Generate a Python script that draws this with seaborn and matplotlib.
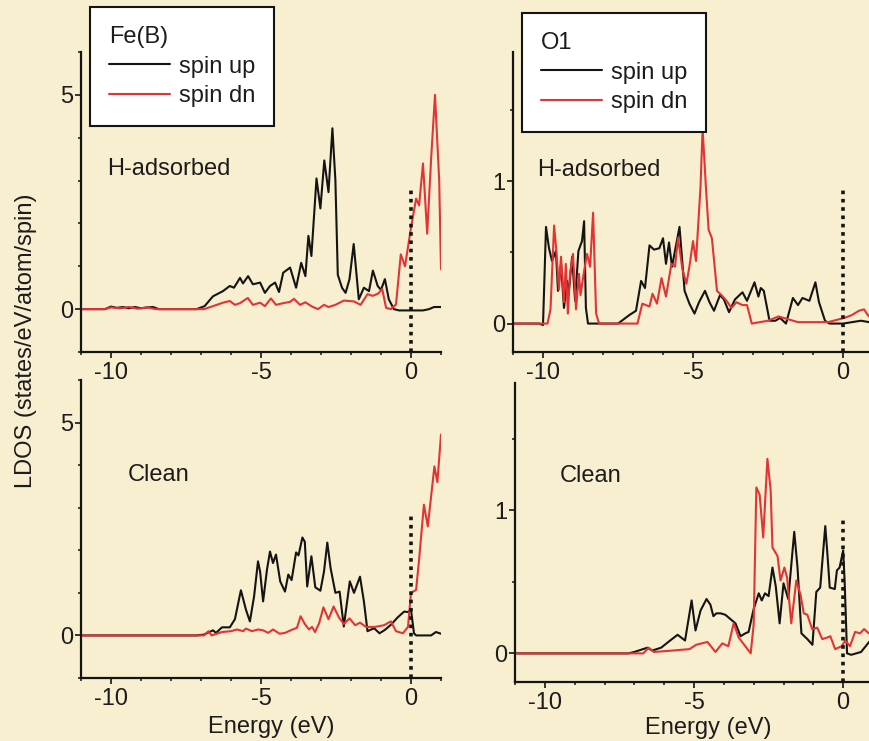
import matplotlib
matplotlib.use("Agg")
import numpy as np
import pandas as pd
import seaborn as sns
import matplotlib.pyplot as plt
from matplotlib.ticker import MultipleLocator, FixedLocator
from matplotlib.lines import Line2D

# ---------------- data ----------------
# Fe(B), H-adsorbed
fe_h_up_E = [-11, -10.2, -10.0, -9.8, -9.6, -9.4, -9.2, -9.0, -8.8, -8.6, -8.4, -8.2, -7.6, -7.15, -6.88,
             -6.6, -6.27, -6.04, -5.9, -5.7, -5.6, -5.43, -5.27, -5.03, -4.87, -4.7, -4.53, -4.4, -4.26,
             -4.03, -3.83, -3.66, -3.52, -3.42, -3.32, -3.15, -3.02, -2.89, -2.75, -2.62, -2.52, -2.44,
             -2.3, -2.18, -2.05, -1.91, -1.74, -1.57, -1.4, -1.27, -1.11, -1.0, -0.87, -0.74, -0.57, -0.4,
             0.0, 0.4, 0.6, 0.77, 1.0]
fe_h_up_y = [0, 0, 0.06, 0.03, 0.05, 0.02, 0.05, 0.02, 0.04, 0.05, 0.0, 0.0, 0, 0, 0.07,
             0.3, 0.42, 0.54, 0.5, 0.73, 0.6, 0.77, 0.58, 0.62, 0.38, 0.54, 0.62, 0.4, 0.85,
             0.97, 0.5, 1.08, 0.77, 1.71, 1.24, 3.05, 2.35, 3.47, 2.73, 4.22, 3.0, 0.8,
             0.5, 0.38, 0.7, 1.52, 0.23, 0.5, 0.42, 0.9, 0.54, 0.45, 0.7, 0.23, 0.0, -0.03,
             -0.03, -0.03, 0.0, 0.05, 0.05]
fe_h_dn_E = [-11, -10.2, -10.0, -9.7, -9.4, -9.1, -8.8, -8.5, -8.2, -7.0, -6.9, -6.6, -6.27, -6.04,
             -5.87, -5.7, -5.44, -5.27, -5.03, -4.87, -4.67, -4.5, -4.26, -4.03, -3.9, -3.7, -3.52,
             -3.3, -3.1, -2.9, -2.75, -2.52, -2.24, -1.9, -1.68, -1.45, -1.28, -1.1, -0.96, -0.83,
             -0.67, -0.5, -0.34, -0.2, 0.0, 0.17, 0.27, 0.4, 0.54, 0.67, 0.8, 0.94, 1.0]
fe_h_dn_y = [0, 0, 0.04, 0.02, 0.05, 0.01, 0.04, 0.0, 0.0, 0, 0, 0.07, 0.15, 0.19,
             0.1, 0.14, 0.26, 0.1, 0.15, 0.07, 0.25, 0.1, 0.14, 0.17, 0.24, 0.1, 0.16,
             0.06, 0.0, 0.1, 0.05, 0.1, 0.2, 0.18, 0.1, 0.35, 0.31, 0.36, 0.47, 0.03,
             0.0, 0.11, 1.28, 1.0, 1.9, 2.58, 2.42, 3.4, 1.76, 3.5, 5.0, 3.0, 0.93]

# O1, H-adsorbed
o_h_up_E = [-11, -10.13, -10.0, -9.9, -9.8, -9.7, -9.57, -9.5, -9.4, -9.3, -9.2, -9.15, -9.03, -8.93,
            -8.82, -8.7, -8.63, -8.57, -8.5, -8.2, -7.5, -7.12, -6.9, -6.73, -6.6, -6.45, -6.3, -6.12,
            -6.0, -5.9, -5.8, -5.7, -5.45, -5.28, -5.12, -4.95, -4.8, -4.6, -4.45, -4.3, -4.1, -3.97,
            -3.8, -3.6, -3.35, -3.2, -2.95, -2.82, -2.74, -2.64, -2.45, -2.25, -2.1, -1.9, -1.67, -1.5,
            -1.35, -1.12, -0.92, -0.8, -0.6, -0.45, 0.0, 0.6, 0.87, 1.0]
o_h_up_y = [0, 0, -0.01, 0.68, 0.53, 0.44, 0.51, 0.23, 0.42, 0.11, 0.3, 0.2, 0.47, 0.16,
            0.51, 0.58, 0.72, 0.11, 0.0, 0.0, 0.0, 0.06, 0.09, 0.3, 0.25, 0.55, 0.52, 0.53,
            0.6, 0.42, 0.57, 0.4, 0.68, 0.23, 0.14, 0.07, 0.15, 0.23, 0.15, 0.09, 0.2, 0.17,
            0.08, 0.17, 0.22, 0.16, 0.29, 0.19, 0.25, 0.23, 0.02, 0.02, 0.04, 0.0, 0.18, 0.13,
            0.18, 0.16, 0.29, 0.15, 0.02, 0.0, 0.0, 0.02, 0.01, 0.01]
o_h_dn_E = [-11, -9.85, -9.75, -9.63, -9.55, -9.47, -9.4, -9.3, -9.24, -9.17, -9.1, -9.0, -8.9, -8.8,
            -8.75, -8.63, -8.53, -8.43, -8.33, -8.23, -8.13, -7.0, -6.85, -6.69, -6.45, -6.35, -6.2,
            -6.05, -5.9, -5.72, -5.6, -5.5, -5.35, -5.22, -5.12, -5.0, -4.9, -4.75, -4.68, -4.57,
            -4.48, -4.37, -4.2, -4.05, -3.88, -3.72, -3.55, -3.35, -3.2, -3.04, -2.5, -2.15, -1.5,
            -0.5, 0.05, 0.3, 0.53, 0.7, 0.86, 1.0]
o_h_dn_y = [0, 0, 0.1, 0.69, 0.5, 0.24, 0.47, 0.15, 0.42, 0.07, 0.35, 0.49, 0.1, 0.35,
            0.2, 0.37, 0.49, 0.4, 0.78, 0.07, 0.0, 0.0, 0.0, 0.14, 0.12, 0.21, 0.14,
            0.32, 0.19, 0.42, 0.4, 0.6, 0.38, 0.28, 0.4, 0.58, 0.44, 0.96, 1.37, 0.96,
            0.66, 0.6, 0.23, 0.2, 0.16, 0.11, 0.15, 0.13, 0.13, 0.0, 0.02, 0.05, 0.01,
            0.01, 0.04, 0.06, 0.09, 0.1, 0.05, 0.05]

# Fe(B), clean
fe_c_up_E = [-11, -7.15, -6.9, -6.6, -6.5, -6.3, -6.04, -5.87, -5.67, -5.5, -5.37, -5.23, -5.1, -5.03,
             -4.93, -4.8, -4.7, -4.6, -4.5, -4.36, -4.2, -4.09, -3.98, -3.83, -3.75, -3.62, -3.54,
             -3.46, -3.32, -3.19, -3.02, -2.9, -2.79, -2.68, -2.52, -2.38, -2.24, -2.04, -1.9, -1.7,
             -1.57, -1.45, -1.23, -1.05, -0.87, -0.67, -0.45, -0.23, -0.1, 0.0, 0.1, 0.17, 0.67,
             0.83, 1.0]
fe_c_up_y = [0, 0, 0.02, 0.12, 0.06, 0.19, 0.19, 0.38, 1.06, 0.6, 0.33, 0.92, 1.74, 1.5,
             0.8, 1.55, 1.97, 1.7, 1.9, 1.27, 1.03, 1.43, 1.3, 1.95, 1.88, 2.3, 2.2,
             1.15, 1.86, 1.13, 1.05, 1.5, 2.18, 1.58, 1.0, 1.03, 0.21, 1.27, 1.0, 1.38,
             0.8, 0.1, 0.17, 0.05, 0.13, 0.25, 0.42, 0.56, 0.55, 0.6, 0.05, 0.0, 0.0,
             0.08, 0.04]
fe_c_dn_E = [-11, -6.9, -6.75, -6.65, -6.3, -6.0, -5.8, -5.6, -5.5, -5.3, -5.1, -4.93, -4.76, -4.6,
             -4.38, -4.2, -3.98, -3.8, -3.68, -3.54, -3.4, -3.3, -3.2, -3.06, -2.92, -2.75, -2.58,
             -2.4, -2.24, -2.05, -1.86, -1.7, -1.5, -1.2, -0.9, -0.67, -0.5, -0.27, -0.1, 0.0, 0.17,
             0.27, 0.43, 0.56, 0.78, 0.88, 1.0]
fe_c_dn_y = [0, 0, 0.1, 0.0, 0.08, 0.1, 0.14, 0.1, 0.16, 0.1, 0.14, 0.12, 0.06, 0.14,
             0.04, 0.06, 0.13, 0.18, 0.45, 0.27, 0.14, 0.2, 0.08, 0.29, 0.66, 0.38, 0.68,
             0.42, 0.27, 0.4, 0.24, 0.3, 0.2, 0.2, 0.24, 0.33, 0.1, 0.05, 0.2, 1.0, 1.07,
             1.78, 3.07, 2.56, 3.97, 3.6, 4.72]

# O1, clean
o_c_up_E = [-11, -7.2, -7.0, -6.56, -6.4, -6.1, -5.8, -5.55, -5.3, -5.08, -4.95, -4.78, -4.58, -4.45,
            -4.35, -4.25, -4.11, -3.95, -3.78, -3.61, -3.44, -3.28, -3.17, -3.0, -2.83, -2.73, -2.62,
            -2.5, -2.37, -2.26, -2.13, -2.0, -1.84, -1.64, -1.53, -1.4, -1.2, -1.03, -0.9, -0.77,
            -0.6, -0.53, -0.45, -0.28, -0.21, -0.12, 0.0, 0.05, 0.13, 0.27, 0.6, 0.87, 1.0]
o_c_up_y = [0, 0, 0.01, 0.04, 0.02, 0.04, 0.09, 0.13, 0.09, 0.37, 0.16, 0.3, 0.38, 0.34,
            0.26, 0.28, 0.28, 0.27, 0.24, 0.21, 0.12, 0.14, 0.15, 0.31, 0.42, 0.37, 0.42,
            0.4, 0.6, 0.47, 0.21, 0.49, 0.38, 0.85, 0.6, 0.14, 0.1, 0.06, 0.43, 0.46,
            0.89, 0.7, 0.46, 0.45, 0.58, 0.6, 0.72, 0.5, 0.0, -0.01, 0.01, 0.08, 0.1]
o_c_dn_E = [-11, -6.7, -6.52, -6.35, -5.7, -5.15, -4.93, -4.55, -4.28, -4.05, -3.85, -3.67, -3.5,
            -3.28, -3.1, -3.0, -2.91, -2.8, -2.68, -2.54, -2.43, -2.37, -2.2, -2.1, -1.97, -1.88,
            -1.74, -1.57, -1.43, -1.32, -1.2, -1.04, -0.87, -0.7, -0.54, -0.43, -0.27, -0.05, 0.07,
            0.23, 0.4, 0.57, 0.7, 0.86, 1.0]
o_c_dn_y = [0, 0, 0.04, 0.01, 0.02, 0.03, 0.06, 0.08, 0.01, 0.07, 0.05, 0.21, 0.11,
            0.05, 0.0, 0.2, 1.16, 1.11, 0.81, 1.36, 1.14, 0.74, 0.68, 0.51, 0.6, 0.53,
            0.21, 0.51, 0.41, 0.28, 0.27, 0.17, 0.18, 0.1, 0.11, 0.12, 0.03, 0.05, 0.09,
            0.05, 0.15, 0.14, 0.17, 0.14, 0.14]

spin_labels = ["spin up", "spin dn"]
panel_titles = ["Fe(B)", "O1"]
state_labels = ["H-adsorbed", "Clean"]
x_label = "Energy (eV)"
y_label = "LDOS (states/eV/atom/spin)"

# ---------------- style ----------------
BG = "#f8eed0"
RED = "#e23434"
BLACK = "#141414"
TXT = "#1c1c1c"
FS = 17

sns.set_style("ticks")
plt.rcParams["font.family"] = ["Liberation Sans", "DejaVu Sans"]
plt.rcParams["axes.unicode_minus"] = False
plt.rcParams["font.size"] = FS

W, H = 869, 741
fig = plt.figure(figsize=(W / 100, H / 100), dpi=100, facecolor=BG)


def rect(left, top, right, bottom):
    return [left / W, 1 - bottom / H, (right - left) / W, (bottom - top) / H]


panels = [
    dict(r=rect(81, 52, 441, 352), up=(fe_h_up_E, fe_h_up_y), dn=(fe_h_dn_E, fe_h_dn_y),
         ylim=(-1, 6), major=[0, 5], minor=1, vtop=2.8, leg=panel_titles[0],
         leg_xy=(90, 7), label=state_labels[0], label_xy=(-10.13, 3.12)),
    dict(r=rect(513, 52, 873, 352), up=(o_h_up_E, o_h_up_y), dn=(o_h_dn_E, o_h_dn_y),
         ylim=(-0.2, 1.91), major=[0, 1], minor=0.5, vtop=0.95, leg=panel_titles[1],
         leg_xy=(522, 13), label=state_labels[0], label_xy=(-10.2, 1.04)),
    dict(r=rect(81, 380, 441, 678), up=(fe_c_up_E, fe_c_up_y), dn=(fe_c_dn_E, fe_c_dn_y),
         ylim=(-1, 6), major=[0, 5], minor=1, vtop=2.8, leg=None,
         leg_xy=None, label=state_labels[1], label_xy=(-9.43, 3.62)),
    dict(r=rect(515, 383, 873, 682), up=(o_c_up_E, o_c_up_y), dn=(o_c_dn_E, o_c_dn_y),
         ylim=(-0.2, 1.89), major=[0, 1], minor=0.5, vtop=0.95, leg=None,
         leg_xy=None, label=state_labels[1], label_xy=(-9.5, 1.2)),
]

for p in panels:
    ax = fig.add_axes(p["r"])
    ax.set_facecolor(BG)
    df = pd.concat([
        pd.DataFrame({"Energy": p["up"][0], "LDOS": p["up"][1], "spin": spin_labels[0]}),
        pd.DataFrame({"Energy": p["dn"][0], "LDOS": p["dn"][1], "spin": spin_labels[1]}),
    ], ignore_index=True)
    sns.lineplot(data=df, x="Energy", y="LDOS", hue="spin", hue_order=spin_labels,
                 palette={spin_labels[0]: BLACK, spin_labels[1]: RED},
                 estimator=None, sort=False, legend=False, linewidth=1.5, ax=ax)
    ax.plot([0, 0], [p["ylim"][0], p["vtop"]], color=BLACK, lw=2.6,
            linestyle=(0, (1, 1.3)), dash_capstyle="butt", zorder=3)
    ax.set_xlim(-11, 1)
    ax.set_ylim(*p["ylim"])
    ax.set_xlabel("")
    ax.set_ylabel("")
    ax.xaxis.set_major_locator(FixedLocator([-10, -5, 0]))
    ax.xaxis.set_minor_locator(MultipleLocator(1))
    ax.yaxis.set_major_locator(FixedLocator(p["major"]))
    ax.yaxis.set_minor_locator(MultipleLocator(p["minor"]))
    for s in ["top", "right"]:
        ax.spines[s].set_visible(False)
    for s in ["left", "bottom"]:
        ax.spines[s].set_linewidth(1.6)
        ax.spines[s].set_color(BLACK)
    ax.tick_params(which="major", direction="out", length=4.5, width=1.2, color=BLACK,
                   labelsize=FS, labelcolor=TXT)
    ax.tick_params(which="minor", direction="out", length=2.5, width=1.1, color=BLACK)
    ax.tick_params(axis="y", which="major", pad=1)
    ax.tick_params(axis="x", which="major", pad=3)
    ax.text(p["label_xy"][0], p["label_xy"][1], p["label"], fontsize=FS, color=TXT,
            ha="left", va="baseline")
    if p["leg"]:
        handles = [Line2D([], [], color=BLACK, lw=1.5), Line2D([], [], color=RED, lw=1.5)]
        leg = ax.legend(handles, spin_labels, title=p["leg"], loc="upper left",
                        bbox_to_anchor=(p["leg_xy"][0] / W, 1 - p["leg_xy"][1] / H),
                        bbox_transform=fig.transFigure, borderaxespad=0,
                        fontsize=FS, title_fontsize=FS, alignment="left",
                        frameon=True, fancybox=False, framealpha=1, facecolor="white",
                        edgecolor=BLACK, borderpad=0.8, labelspacing=0.33,
                        handlelength=2.6, handletextpad=0.35)
        leg.get_frame().set_linewidth(1.5)
        leg.set_zorder(10)
        for t in leg.get_texts():
            t.set_color(TXT)
        leg.get_title().set_color(TXT)

fig.text(271 / W, 1 - 733 / H, x_label, fontsize=FS, color=TXT, ha="center", va="baseline")
fig.text(708 / W, 1 - 734 / H, x_label, fontsize=FS, color=TXT, ha="center", va="baseline")
fig.text(26 / W, 1 - 341 / H, y_label, fontsize=FS, color=TXT, ha="center", va="center",
         rotation=90)

fig.savefig("out.png", dpi=100, facecolor=BG)
